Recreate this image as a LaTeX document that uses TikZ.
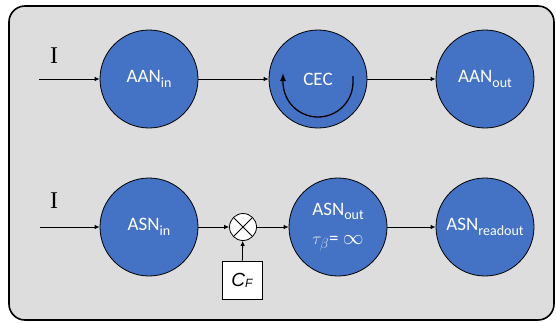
\documentclass[tikz,border=0pt]{standalone}
\usepackage{fontspec}
\setmainfont{Carlito}
\newfontfamily\serifI{Liberation Serif}
\newfontfamily\arialF{Liberation Sans}
\usetikzlibrary{arrows.meta}
\definecolor{bgc}{RGB}{221,221,221}
\definecolor{nodeblue}{RGB}{68,114,196}
\newcommand\lsub[1]{\raisebox{-4.5pt}{\fontsize{14}{14}\selectfont #1}}
\begin{document}
\begin{tikzpicture}[x=1pt,y=-1pt,
  neuron/.style={circle,draw=black,line width=0.8pt,fill=nodeblue,text=white,
    minimum size=98pt,inner sep=0pt,font=\fontsize{19}{21}\selectfont,align=center},
  conn/.style={line width=0.8pt,-{Latex[length=5pt,width=4.5pt]}},
  lbl/.style={font=\serifI\fontsize{24}{24}\selectfont,inner sep=0pt}]
\useasboundingbox (0,0) rectangle (556,322);
\draw[line width=1.6pt,fill=bgc,rounded corners=16pt] (9,6) rectangle (554,320);
% top row
\node[neuron] (aanin) at (149,79) {AAN\lsub{in}};
\node[neuron] (cec) at (318,79) {CEC};
\node[neuron] (aanout) at (485,79) {AAN\lsub{out}};
\coordinate (itop) at (39,79);
\node[lbl] (ltop) at (54,56) {I};
\draw[conn] (itop) -- (aanin);
\draw[conn] (aanin) -- (cec);
\draw[conn] (cec) -- (aanout);
\draw[line width=1.3pt,-{Latex[length=8pt,width=6pt]}]
  ([shift={(35,-3)}]cec.center) -- ([shift={(35,3)}]cec.center)
  arc[start angle=0,end angle=180,radius=35] -- ([shift={(-35,-6)}]cec.center);
% bottom row
\node[neuron] (asnin) at (149,227) {ASN\lsub{in}};
\node[circle,draw=black,line width=0.8pt,fill=white,minimum size=27pt,inner sep=0pt,
  path picture={\draw[line width=0.8pt] (path picture bounding box.north west) -- (path picture bounding box.south east)
    (path picture bounding box.north east) -- (path picture bounding box.south west);}] (mult) at (243,227) {};
\node[neuron] (asnout) at (338,227) {ASN\lsub{out}\\[8pt]{\color{white!80!nodeblue}$\tau_\beta$}= {\fontsize{22}{22}\selectfont$\infty$}};
\node[neuron] (asnro) at (485,227) {ASN\lsub{readout}};
\node[draw=black,line width=0.8pt,fill=white,minimum width=40pt,minimum height=38pt,inner sep=0pt]
  (cf) at (242,280) {\arialF\itshape\fontsize{19}{19}\selectfont C\raisebox{-1pt}{\fontsize{12}{12}\selectfont F}};
\coordinate (ibot) at (40,227);
\node[lbl] (lbot) at (54,201) {I};
\draw[conn] (ibot) -- (asnin);
\draw[conn] (asnin) -- (mult);
\draw[conn] (mult) -- (asnout);
\draw[conn] (asnout) -- (asnro);
\draw[conn] (cf) -- (mult);
\end{tikzpicture}
\end{document}
